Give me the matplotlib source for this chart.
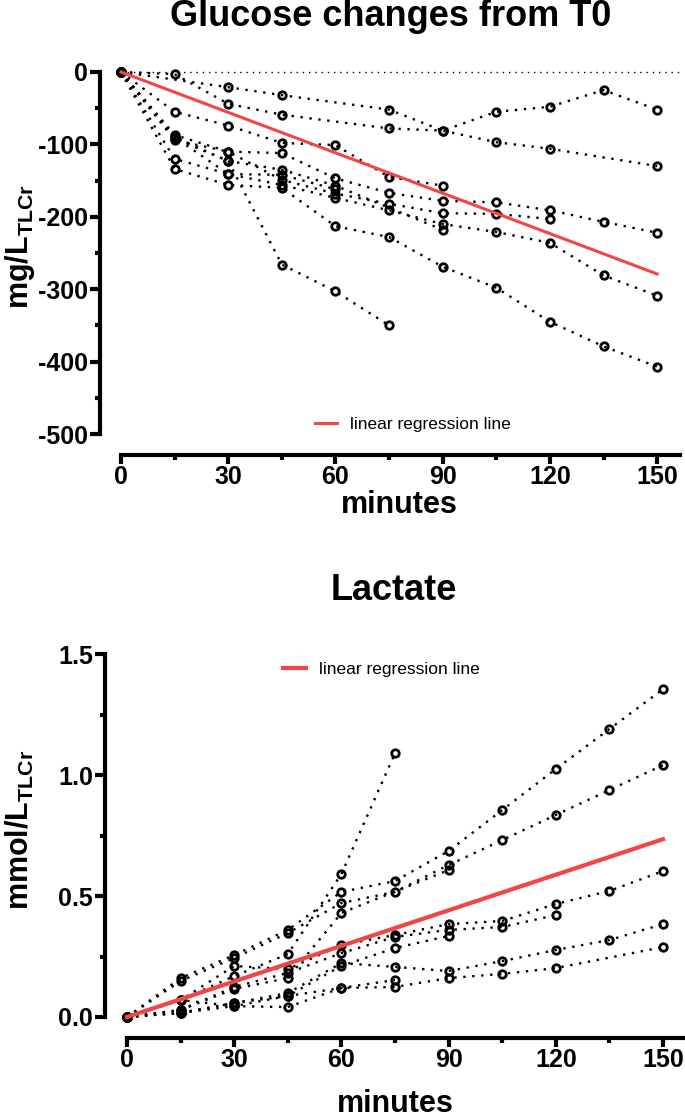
# plot.py

import matplotlib
matplotlib.use("Agg")
from matplotlib import pyplot as plt
from matplotlib.ticker import FixedLocator, FixedFormatter

# time points (minutes)
minutes = [0, 15, 30, 45, 60, 75, 90, 105, 120, 135, 150]

# glucose changes from T0 (mg/L TLCr), one list per subject, None = no sample
glucose_s1 = [0, None, -21, -32, None, -52, -81, -55, -48, -25, -52]
glucose_s2 = [0, -3, -44, -59, None, -78, -81, -97, -106, None, -130]
glucose_s3 = [0, -90, -123, -266, -303, -350, None, None, None, None, None]
glucose_s4 = [0, -134, -156, -160, -213, -228, -269, -298, -345, -379, -407]
glucose_s5 = [0, -120, -141, -156, -174, -191, -210, -221, -236, -281, -309]
glucose_s6 = [0, -87, -110, -149, -168, -182, -195, -196, -203, None, None]
glucose_s7 = [0, -55, -74, -98, -101, -145, -157, None, None, None, None]
glucose_s8 = [0, -94, -110, -112, -147, -167, -178, -180, -191, -207, -222]
glucose_s9 = [0, -92, -123, -135, -157, None, -218, None, None, None, None]
glucose_s10 = [0, -90, -141, -142, -162, None, None, None, None, None, None]

# lactate (mmol/L TLCr)
lactate_s1 = [0, .161, .256, .36, .517, .562, .686, .855, 1.025, 1.19, 1.355]
lactate_s2 = [0, .149, .244, .347, .471, .517, .628, .731, .835, .938, 1.041]
lactate_s3 = [0, .07, .169, .26, .591, 1.09, None, None, None, None, None]
lactate_s4 = [0, .07, .211, .198, .298, .339, .384, .397, .467, .521, .603]
lactate_s5 = [0, .029, .124, .182, .264, .331, .36, .372, .421, None, None]
lactate_s6 = [0, .029, .116, .161, .43, None, .607, None, None, None, None]
lactate_s7 = [0, .017, .058, .099, .223, .207, .19, .231, .277, .318, .384]
lactate_s8 = [0, .017, .045, .041, .12, .124, .161, .178, .202, None, .289]
lactate_s9 = [0, .07, .045, .087, .211, .285, .335, None, None, None, None]
lactate_s10 = [0, .017, .058, .087, .12, .153, None, None, None, None, None]

# linear regression lines (end points)
regression_x = [0, 150]
glucose_regression = [0, -279]
lactate_regression = [0, 0.735]

x_ticks = [0, 30, 60, 90, 120, 150]
x_minor = [15, 45, 75, 105, 135]
glucose_ticks = [0, -100, -200, -300, -400, -500]
glucose_minor = [-50, -150, -250, -350, -450]
lactate_ticks = [0.0, 0.5, 1.0, 1.5]
lactate_tick_labels = ["0.0", "0.5", "1.0", "1.5"]
lactate_minor = [0.25, 0.75, 1.25]

RED = "#f44545"

plt.rcParams["font.family"] = ["Liberation Sans", "DejaVu Sans"]
plt.rcParams["axes.unicode_minus"] = False
plt.rcParams["mathtext.fontset"] = "custom"
plt.rcParams["mathtext.rm"] = "Liberation Sans:bold"
plt.rcParams["mathtext.bf"] = "Liberation Sans:bold"


def plot_subject(ax, values):
    """Draw one subject as dotted line with open circles, skipping gaps."""
    xs = [t for t, v in zip(minutes, values) if v is not None]
    ys = [v for v in values if v is not None]
    ax.plot(xs, ys, color="black", linestyle=(0, (1, 2.8)), linewidth=1.7,
            marker="o", markersize=5.4, markerfacecolor="none",
            markeredgewidth=2.0, markeredgecolor="black", clip_on=False,
            zorder=3)


def style_axes(ax, xlim, ylim, ybounds):
    """Prism-like axes: thick offset spines, outward ticks."""
    ax.set_xlim(*xlim)
    ax.set_ylim(*ylim)
    for side in ("top", "right"):
        ax.spines[side].set_visible(False)
    for side in ("left", "bottom"):
        ax.spines[side].set_linewidth(3)
    ax.spines["left"].set_bounds(*ybounds)
    ax.spines["bottom"].set_bounds(0, xlim[1])
    ax.xaxis.set_major_locator(FixedLocator(x_ticks))
    ax.xaxis.set_minor_locator(FixedLocator(x_minor))
    ax.tick_params(which="major", width=3, direction="out", labelsize=18)
    ax.tick_params(axis="x", which="major", length=6.5, pad=1)
    ax.tick_params(axis="y", which="major", length=7.5, pad=1)
    ax.tick_params(which="minor", length=3.5, width=3, direction="out")
    for lab in ax.get_xticklabels() + ax.get_yticklabels():
        lab.set_fontweight("bold")


def main():
    fig = plt.figure(figsize=(6.85, 11.18), dpi=100)

    # ---- glucose
    ax1 = fig.add_axes([100 / 685, 1 - 455 / 1118, 580 / 685, 387 / 1118])
    ax1.plot([0, 156.4], [0, 0], color="black", linestyle=(0, (1, 3.5)),
             linewidth=1.0, zorder=1)
    for s in (glucose_s1, glucose_s2, glucose_s3, glucose_s4, glucose_s5,
              glucose_s6, glucose_s7, glucose_s8, glucose_s9, glucose_s10):
        plot_subject(ax1, s)
    ax1.plot(regression_x, glucose_regression, color=RED, linewidth=2.2,
             zorder=4, label="linear regression line")
    ax1.yaxis.set_major_locator(FixedLocator(glucose_ticks))
    ax1.yaxis.set_minor_locator(FixedLocator(glucose_minor))
    style_axes(ax1, (-5.88, 156.4), (-529, 5.5), (-500, 0))
    ax1.legend(loc="center left", bbox_to_anchor=(315 / 685, 1 - 424 / 1118),
               bbox_transform=fig.transFigure, frameon=False, fontsize=12.5,
               handlelength=1.27, handletextpad=0.75, borderpad=0,
               borderaxespad=0)

    # ---- lactate
    ax2 = fig.add_axes([105 / 685, 1 - 1038 / 1118, 578 / 685, 389 / 1118])
    for s in (lactate_s1, lactate_s2, lactate_s3, lactate_s4, lactate_s5,
              lactate_s6, lactate_s7, lactate_s8, lactate_s9, lactate_s10):
        plot_subject(ax2, s)
    ax2.plot(regression_x, lactate_regression, color=RED, linewidth=3,
             zorder=4, label="linear regression line")
    ax2.yaxis.set_major_locator(FixedLocator(lactate_ticks))
    ax2.yaxis.set_major_formatter(FixedFormatter(lactate_tick_labels))
    ax2.yaxis.set_minor_locator(FixedLocator(lactate_minor))
    style_axes(ax2, (-6.16, 155.6), (-0.0868, 1.521), (0, 1.5))
    ax2.legend(loc="center left", bbox_to_anchor=(283 / 685, 1 - 669 / 1118),
               bbox_transform=fig.transFigure, frameon=False, fontsize=12.5,
               handlelength=1.3, handletextpad=0.8, borderpad=0,
               borderaxespad=0)

    # titles and axis labels
    fig.text(391 / 685, 1 - 17 / 1118, "Glucose changes from T0",
             ha="center", va="center", fontsize=26, fontweight="bold")
    fig.text(394 / 685, 1 - 590 / 1118, "Lactate",
             ha="center", va="center", fontsize=26, fontweight="bold")
    fig.text(399 / 685, 1 - 505 / 1118, "minutes",
             ha="center", va="center", fontsize=22, fontweight="bold")
    fig.text(395 / 685, 1 - 1104 / 1118, "minutes",
             ha="center", va="center", fontsize=22, fontweight="bold")
    fig.text(20 / 685, 1 - 247 / 1118, r"mg/L$_{\mathrm{TLCr}}$",
             ha="center", va="center", rotation=90, fontsize=22,
             fontweight="bold")
    fig.text(20 / 685, 1 - 830 / 1118, r"mmol/L$_{\mathrm{TLCr}}$",
             ha="center", va="center", rotation=90, fontsize=22,
             fontweight="bold")

    fig.savefig("out.png", dpi=100, facecolor="white")


if __name__ == "__main__":
    main()
